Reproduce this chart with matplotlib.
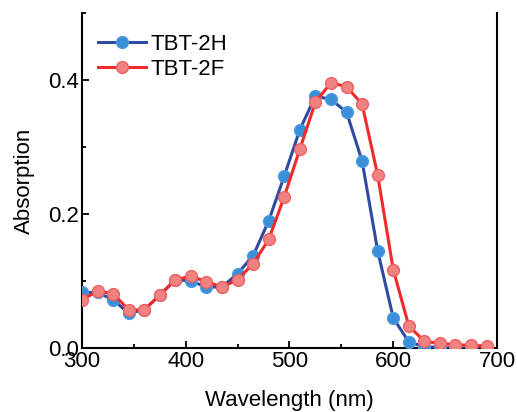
"""Absorption spectra of TBT-2H and TBT-2F."""

import matplotlib
matplotlib.use("Agg")
import matplotlib.pyplot as plt
from matplotlib.ticker import MultipleLocator

plt.rcParams["font.family"] = ["Liberation Sans", "DejaVu Sans"]

wavelength = list(range(300, 691, 15))
tbt_2h = [0.083, 0.083, 0.072, 0.052, 0.057, 0.079, 0.102, 0.100, 0.091,
          0.091, 0.111, 0.138, 0.190, 0.257, 0.326, 0.376, 0.371, 0.352,
          0.279, 0.145, 0.045, 0.009, 0.002, 0.001, 0.0, 0.0, 0.0]
tbt_2f = [0.072, 0.085, 0.081, 0.057, 0.057, 0.079, 0.102, 0.107, 0.099,
          0.091, 0.102, 0.126, 0.162, 0.226, 0.297, 0.367, 0.396, 0.390,
          0.364, 0.258, 0.117, 0.033, 0.010, 0.007, 0.005, 0.004, 0.003]

fig = plt.figure(figsize=(5.17, 4.12), dpi=100)
ax = fig.add_axes([0.1586, 0.1553, 0.8027, 0.8131])

ax.plot(wavelength, tbt_2h, color="#2f4aa0", lw=2.2, marker="o", ms=8.5,
        mfc="#3a8fd8", mec="#4a9be0", mew=1.0, label="TBT-2H", zorder=3)
ax.plot(wavelength, tbt_2f, color="#f02a2a", lw=2.2, marker="o", ms=8.5,
        mfc="#f08282", mec="#f06060", mew=1.0, label="TBT-2F", zorder=4)

ax.set_xlim(300, 700)
ax.set_ylim(0, 0.5)
ax.xaxis.set_major_locator(MultipleLocator(100))
ax.xaxis.set_minor_locator(MultipleLocator(50))
ax.yaxis.set_major_locator(MultipleLocator(0.2))
ax.yaxis.set_minor_locator(MultipleLocator(0.1))
ax.set_yticks([0.0, 0.2, 0.4])
ax.set_yticklabels(["0.0", "0.2", "0.4"])

ax.spines["top"].set_visible(False)
for s in ("left", "right", "bottom"):
    ax.spines[s].set_linewidth(1.5)
ax.tick_params(which="both", direction="in", width=1.3, labelsize=16,
               pad=2)
ax.tick_params(which="major", length=5)
ax.tick_params(which="minor", length=3)

ax.set_xlabel("Wavelength (nm)", fontsize=16, labelpad=13)
ax.set_ylabel("Absorption", fontsize=16, labelpad=10)

ax.legend(loc="upper left", frameon=False, fontsize=16, handlelength=2.2,
          handletextpad=0.2, labelspacing=0.2, borderaxespad=0.3,
          bbox_to_anchor=(0.0, 0.985))

fig.savefig("out.png", dpi=100)
